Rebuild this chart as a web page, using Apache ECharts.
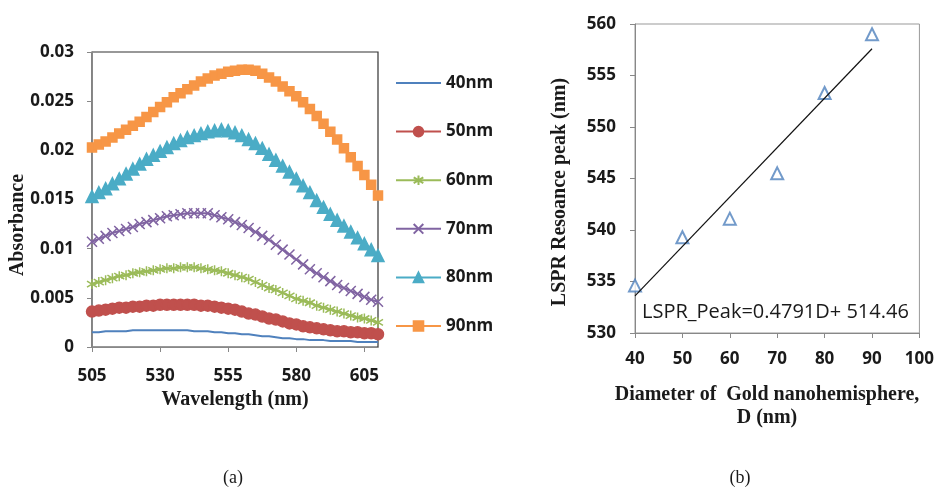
<!DOCTYPE html>
<html>
<head>
<meta charset="UTF-8">
<title>LSPR absorbance</title>
<script src="https://cdn.jsdelivr.net/npm/echarts@6/dist/echarts.min.js"></script>
<style>
  html, body { margin: 0; padding: 0; background: #fff; }
  #main { width: 937px; height: 491px; }
</style>
</head>
<body>
<div id="main"></div>
<script>
// wavelength steps (nm)
var wavelengths = [505, 507.5, 510, 512.5, 515, 517.5, 520, 522.5, 525, 527.5, 530, 532.5, 535, 537.5, 540,
  542.5, 545, 547.5, 550, 552.5, 555, 557.5, 560, 562.5, 565, 567.5, 570, 572.5, 575, 577.5, 580,
  582.5, 585, 587.5, 590, 592.5, 595, 597.5, 600, 602.5, 605, 607.5, 610];

var abs40 = [.0015, .0015, .0016, .0016, .0016, .0016, .0017, .0017, .0017, .0017, .0017, .0017, .0017, .0017, .0017,
  .0016, .0016, .0016, .0015, .0015, .0014, .0014, .0013, .0013, .0012, .0011, .0011, .0010, .0009, .0009, .0008,
  .0008, .0007, .0007, .0007, .0006, .0006, .0006, .0006, .0005, .0005, .0005, .0005];
var abs50 = [.0036, .0037, .0038, .0039, .0040, .0040, .0041, .0041, .0042, .0042, .0043, .0043, .0043, .0043, .0043,
  .0043, .0042, .0042, .0041, .0040, .0039, .0038, .0036, .0034, .0033, .0031, .0029, .0028, .0026, .0024, .0023,
  .0021, .0020, .0019, .0018, .0017, .0016, .0016, .0015, .0015, .0014, .0014, .0013];
var abs60 = [.0064, .0066, .0068, .0070, .0072, .0073, .0075, .0076, .0077, .0078, .0079, .0080, .0080, .0081, .0081,
  .0081, .0080, .0079, .0078, .0077, .0075, .0073, .0071, .0069, .0066, .0063, .0060, .0058, .0055, .0052, .0049,
  .0047, .0045, .0042, .0040, .0038, .0036, .0034, .0032, .0030, .0029, .0027, .0025];
var abs70 = [.0107, .0110, .0113, .0116, .0118, .0120, .0122, .0125, .0127, .0129, .0131, .0133, .0134, .0135, .0136,
  .0136, .0136, .0136, .0134, .0132, .0130, .0127, .0124, .0121, .0117, .0113, .0109, .0104, .0099, .0094, .0089,
  .0084, .0079, .0075, .0071, .0067, .0063, .0060, .0057, .0054, .0051, .0048, .0046];
var abs80 = [.0153, .0157, .0161, .0166, .0171, .0176, .0181, .0186, .0191, .0195, .0199, .0203, .0207, .0210, .0213,
  .0215, .0217, .0219, .0220, .0221, .0220, .0218, .0215, .0211, .0207, .0202, .0196, .0190, .0184, .0178, .0171,
  .0164, .0157, .0149, .0142, .0135, .0129, .0123, .0117, .0111, .0105, .0099, .0093];
var abs90 = [.0203, .0206, .0209, .0213, .0217, .0221, .0225, .0229, .0234, .0239, .0244, .0249, .0254, .0258, .0262,
  .0266, .0270, .0273, .0276, .0278, .0280, .0281, .0282, .0282, .0281, .0278, .0274, .0270, .0265, .0260, .0255,
  .0249, .0242, .0235, .0227, .0219, .0211, .0202, .0193, .0184, .0175, .0165, .0154];

var sizeNames = ['40nm', '50nm', '60nm', '70nm', '80nm', '90nm'];
var wlTicks = [505, 530, 555, 580, 605];

// panel (b)
var diameters = [40, 50, 60, 70, 80, 90];
var peaks = [534.6, 539.3, 541.1, 545.5, 553.3, 559.0];
var fitX = [40, 90];
var fitY = [533.6, 557.6];

var colors = ['#4f81bd', '#c0504d', '#9bbb59', '#8064a2', '#4bacc6', '#f79646'];
var labelFont = { color: '#1a1a1a', fontFamily: 'Open Sans', fontWeight: 'bold', fontSize: 17 };
var titleFont = 'bold 20px "Liberation Serif"';

function pairs(xs, ys) {
  return xs.map(function (x, i) { return [x, ys[i]]; });
}

var chart = echarts.init(document.getElementById('main'));

var curveDefs = [
  { data: abs40, symbol: 'none', size: 0 },
  { data: abs50, symbol: 'circle', size: 11 },
  { data: abs60, symbol: 'path://M5,0L5,10M1,2L9,8M9,2L1,8', size: 10 },
  { data: abs70, symbol: 'path://M0,0L10,10M10,0L0,10', size: 10 },
  { data: abs80, symbol: 'triangle', size: 12 },
  { data: abs90, symbol: 'rect', size: 9 }
];

var series = curveDefs.map(function (c, i) {
  return {
    name: sizeNames[i],
    type: 'line',
    xAxisIndex: 0,
    yAxisIndex: 0,
    data: pairs(wavelengths, c.data),
    symbol: c.symbol,
    symbolSize: c.size,
    showSymbol: c.symbol !== 'none',
    lineStyle: { color: colors[i], width: 2 },
    itemStyle: { color: colors[i], borderColor: colors[i], borderWidth: i === 0 ? 0 : 1.5 },
    z: 2 + i
  };
});

series.push({
  type: 'scatter',
  xAxisIndex: 1,
  yAxisIndex: 1,
  data: pairs(diameters, peaks),
  symbol: 'emptyTriangle',
  symbolSize: 12,
  itemStyle: { color: '#4f81bd', borderColor: '#4f81bd', borderWidth: 1.3 }
});
series.push({
  type: 'line',
  xAxisIndex: 1,
  yAxisIndex: 1,
  data: pairs(fitX, fitY),
  symbol: 'none',
  lineStyle: { color: '#111', width: 1.2 }
});

// plain line icon for the 40nm entry, the rest use line + marker
var legendData = sizeNames.map(function (n, i) {
  return i === 0 ? { name: n, icon: 'path://M0,0H45V1.8H0Z' } : n;
});

var option = {
  animation: false,
  backgroundColor: '#fff',
  grid: [
    { left: 92, top: 52, width: 286, height: 295, show: true, borderColor: '#333', borderWidth: 1.2 },
    { left: 635, top: 24, width: 287, height: 309, show: true, borderColor: '#999', borderWidth: 1 }
  ],
  legend: {
    orient: 'vertical',
    left: 390,
    top: 69.5,
    itemWidth: 45,
    itemHeight: 12,
    itemGap: 31.6,
    data: legendData,
    textStyle: { color: '#1a1a1a', fontFamily: 'Open Sans', fontWeight: 'bold', fontSize: 17 }
  },
  xAxis: [
    {
      type: 'value', gridIndex: 0, min: 505, max: 610,
      name: 'Wavelength (nm)', nameLocation: 'middle', nameGap: 43,
      nameTextStyle: { fontFamily: 'Liberation Serif', fontWeight: 'bold', fontSize: 20, color: '#1a1a1a' },
      splitLine: { show: false },
      axisLine: { lineStyle: { color: '#888' } },
      axisTick: { customValues: wlTicks, length: 5, lineStyle: { color: '#888' } },
      axisLabel: Object.assign({ customValues: wlTicks, margin: 21 }, labelFont)
    },
    {
      type: 'value', gridIndex: 1, min: 40, max: 100, interval: 10,
      splitLine: { show: false },
      axisLine: { lineStyle: { color: '#888' } },
      axisTick: { length: 5, lineStyle: { color: '#888' } },
      axisLabel: Object.assign({ margin: 18 }, labelFont)
    }
  ],
  yAxis: [
    {
      type: 'value', gridIndex: 0, min: 0, max: 0.03, interval: 0.005,
      splitLine: { show: false },
      axisLine: { show: true, lineStyle: { color: '#888' } },
      axisTick: { show: true, length: 5, lineStyle: { color: '#888' } },
      axisLabel: Object.assign({ margin: 18 }, labelFont)
    },
    {
      type: 'value', gridIndex: 1, min: 530, max: 560, interval: 5,
      splitLine: { show: false },
      axisLine: { show: true, lineStyle: { color: '#888' } },
      axisTick: { show: true, length: 5, lineStyle: { color: '#888' } },
      axisLabel: Object.assign({ margin: 19 }, labelFont)
    }
  ],
  graphic: [
    {
      type: 'text', x: 18, y: 225, rotation: Math.PI / 2,
      style: { text: 'Absorbance', font: titleFont, fill: '#1a1a1a', align: 'center', verticalAlign: 'middle' }
    },
    {
      type: 'text', x: 560, y: 192, rotation: Math.PI / 2,
      style: { text: 'LSPR Resoance peak (nm)', font: titleFont, fill: '#1a1a1a', align: 'center', verticalAlign: 'middle' }
    },
    {
      type: 'text', x: 767, y: 383,
      style: { text: 'Diameter of  Gold nanohemisphere,\nD (nm)', font: titleFont, lineHeight: 23, fill: '#1a1a1a', align: 'center', verticalAlign: 'top' }
    },
    {
      type: 'text', x: 640, y: 312, z: 10,
      style: { text: 'LSPR_Peak=0.4791D+ 514.46', font: '20px "Open Sans"', fill: '#1a1a1a', backgroundColor: '#fff', padding: [1, 2], align: 'left', verticalAlign: 'middle' }
    },
    {
      type: 'text', x: 233, y: 478,
      style: { text: '(a)', font: '18px "Liberation Serif"', fill: '#1a1a1a', align: 'center', verticalAlign: 'middle' }
    },
    {
      type: 'text', x: 740, y: 478,
      style: { text: '(b)', font: '18px "Liberation Serif"', fill: '#1a1a1a', align: 'center', verticalAlign: 'middle' }
    }
  ],
  series: series
};

chart.setOption(option);
</script>
</body>
</html>
